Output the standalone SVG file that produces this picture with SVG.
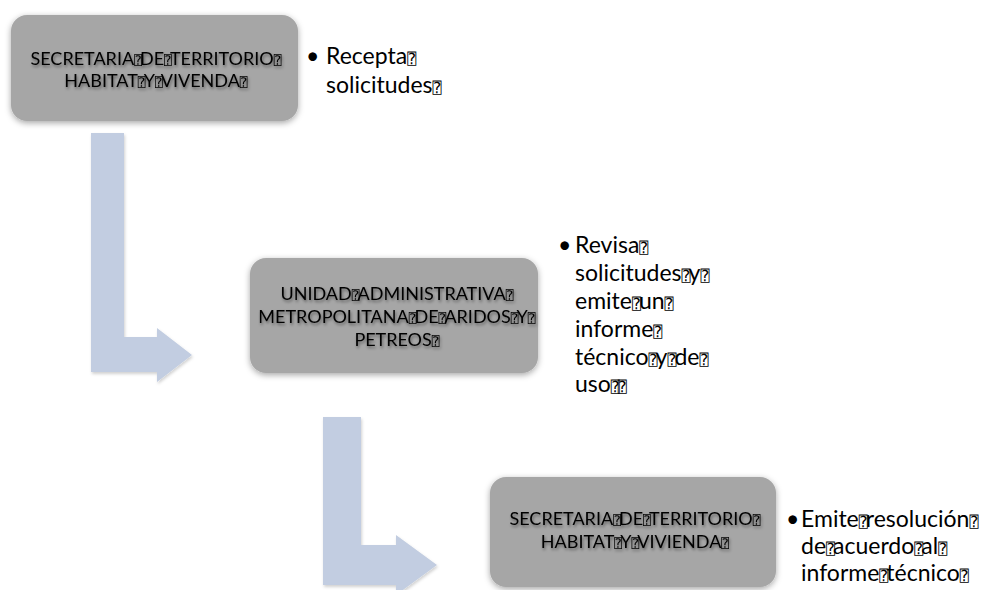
<svg xmlns="http://www.w3.org/2000/svg" width="983" height="590" viewBox="0 0 983 590">
<defs>
<filter id="sh" x="-10%" y="-15%" width="120%" height="135%">
<feDropShadow dx="0" dy="2" stdDeviation="3" flood-color="#000" flood-opacity="0.35"/>
</filter>
<filter id="tsh" x="-5%" y="-30%" width="110%" height="160%">
<feDropShadow dx="1" dy="2" stdDeviation="1.5" flood-color="#000" flood-opacity="0.45"/>
</filter>
<filter id="ash" x="-10%" y="-10%" width="125%" height="125%">
<feDropShadow dx="1" dy="2" stdDeviation="1.5" flood-color="#000" flood-opacity="0.18"/>
</filter>
<style>
.box{fill:#a6a6a6;filter:url(#sh)}
.bt{font-family:Lato,"Liberation Sans",sans-serif;font-size:18px;fill:#000;text-anchor:middle;filter:url(#tsh)}
.lt{font-family:Lato,"Liberation Sans",sans-serif;font-size:23px;fill:#000}
.q{font-family:"DejaVu Sans Mono","DejaVu Sans",monospace;font-size:13px;letter-spacing:-2px}
.lt .q{font-size:15px}
.arr{fill:#c2cde1;filter:url(#ash)}
</style>
</defs>
<g id="connectors">
<path class="arr" d="M91,133 H124 V337 H157 V328 L192,355 L157,382 V372 H91 Z"/>
<path class="arr" d="M323,417 H361 V545 H396 V535 L437,565 L396,595 V585 H323 Z"/>
</g>
<g id="node1">
<rect class="box" x="11" y="15" width="287" height="106" rx="16"/>
<text class="bt" x="155" y="65">SECRETARIA<tspan class="q">⍰</tspan>DE<tspan class="q">⍰</tspan>TERRITORIO<tspan class="q">⍰</tspan></text>
<text class="bt" x="155" y="87">HABITAT<tspan class="q">⍰</tspan>Y<tspan class="q">⍰</tspan>VIVENDA<tspan class="q">⍰</tspan></text>
</g>
<g id="note1">
<text class="lt" x="306" y="64">•</text>
<text class="lt" x="326" y="64">Recepta<tspan class="q">⍰</tspan></text>
<text class="lt" x="326" y="93">solicitudes<tspan class="q">⍰</tspan></text>
</g>
<g id="node2">
<rect class="box" x="250" y="258" width="288" height="115" rx="16"/>
<text class="bt" x="396" y="300">UNIDAD<tspan class="q">⍰</tspan>ADMINISTRATIVA<tspan class="q">⍰</tspan></text>
<text class="bt" x="396" y="323">METROPOLITANA<tspan class="q">⍰</tspan>DE<tspan class="q">⍰</tspan>ARIDOS<tspan class="q">⍰</tspan>Y<tspan class="q">⍰</tspan></text>
<text class="bt" x="396" y="346">PETREOS<tspan class="q">⍰</tspan></text>
</g>
<g id="note2">
<text class="lt" x="558" y="253">•</text>
<text class="lt" x="575" y="253">Revisa<tspan class="q">⍰</tspan></text>
<text class="lt" x="575" y="281">solicitudes<tspan class="q">⍰</tspan>y<tspan class="q">⍰</tspan></text>
<text class="lt" x="575" y="309">emite<tspan class="q">⍰</tspan>un<tspan class="q">⍰</tspan></text>
<text class="lt" x="575" y="337">informe<tspan class="q">⍰</tspan></text>
<text class="lt" x="575" y="365">técnico<tspan class="q">⍰</tspan>y<tspan class="q">⍰</tspan>de<tspan class="q">⍰</tspan></text>
<text class="lt" x="575" y="392">uso<tspan class="q">⍰⍰</tspan></text>
</g>
<g id="node3">
<rect class="box" x="490" y="477" width="286" height="110" rx="16"/>
<text class="bt" x="634" y="525">SECRETARIA<tspan class="q">⍰</tspan>DE<tspan class="q">⍰</tspan>TERRITORIO<tspan class="q">⍰</tspan></text>
<text class="bt" x="634" y="548">HABITAT<tspan class="q">⍰</tspan>Y<tspan class="q">⍰</tspan>VIVIENDA<tspan class="q">⍰</tspan></text>
</g>
<g id="note3">
<text class="lt" x="786" y="527">•</text>
<text class="lt" x="801" y="527">Emite<tspan class="q">⍰</tspan>resolución<tspan class="q">⍰</tspan></text>
<text class="lt" x="801" y="554">de<tspan class="q">⍰</tspan>acuerdo<tspan class="q">⍰</tspan>al<tspan class="q">⍰</tspan></text>
<text class="lt" x="801" y="581">informe<tspan class="q">⍰</tspan>técnico<tspan class="q">⍰</tspan></text>
</g>
</svg>
